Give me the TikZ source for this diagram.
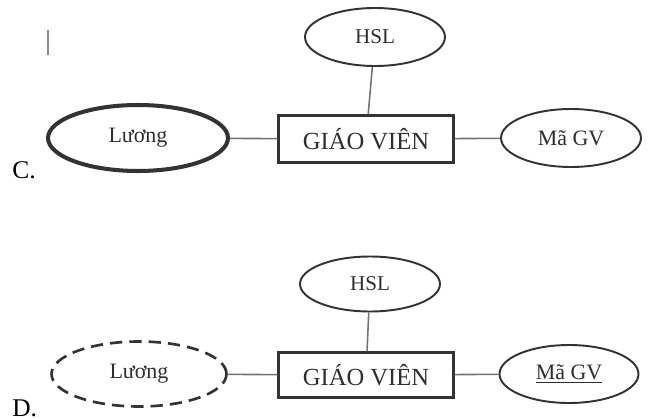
\documentclass[tikz,border=0pt]{standalone}
\usepackage{fontspec}
\setmainfont{Liberation Serif}
\usetikzlibrary{shapes.geometric}

\begin{document}
\begin{tikzpicture}[x=0.02cm, y=-0.02cm,
  attr/.style={ellipse, draw=black!80, line width=1.1pt, inner sep=0pt,
    minimum width=2.8cm, minimum height=1.16cm, text=black!82,
    font=\fontsize{12.5}{14}\selectfont},
  entity/.style={rectangle, draw=black!80, line width=1.3pt, inner sep=0pt,
    minimum width=3.5cm, minimum height=0.94cm, text=black!82,
    font=\fontsize{14}{16}\selectfont},
  link/.style={draw=black!55, line width=0.9pt},
  optlabel/.style={anchor=base west, inner sep=0pt, font=\fontsize{14.5}{17}\selectfont}]

\useasboundingbox (0,0) rectangle (650,419);

% nodes (C)
\node[attr, font=\fontsize{12}{13}\selectfont] (hslC) at (375, 37) {HSL};
\node[entity] (gvC) at (366, 139) {GIÁO VIÊN};
\node[attr, minimum width=3.6cm, minimum height=1.32cm, line width=2.3pt] (luongC) at (138, 138) {Lương};
\node[attr] (magvC) at (571, 138) {Mã GV};
\node[optlabel] (labC) at (12, 178) {C.};
\coordinate (barT) at (48, 30);
\coordinate (barB) at (48, 55);

% nodes (D)
\node[attr, minimum height=1.1cm, font=\fontsize{12}{13}\selectfont] (hslD) at (370, 284) {HSL};
\node[entity, minimum height=0.9cm] (gvD) at (366, 375) {GIÁO VIÊN};
\node[attr, dashed, dash pattern=on 7pt off 4pt, minimum width=3.5cm, minimum height=1.3cm, line width=1.5pt] (luongD) at (139, 374) {Lương};
\node[attr, minimum width=2.78cm] (magvD) at (569, 374) {\underline{Mã GV}};
\node[optlabel] (labD) at (12, 416) {D.};

% links
\draw[draw=black!45, line width=1pt] (barT) -- (barB);

\draw[link] (hslC) -- (gvC);
\draw[link] (luongC) -- (gvC);
\draw[link] (gvC) -- (magvC);

\draw[link] (hslD) -- (gvD);
\draw[link] (luongD) -- (gvD);
\draw[link] (gvD) -- (magvD);

\end{tikzpicture}
\end{document}
